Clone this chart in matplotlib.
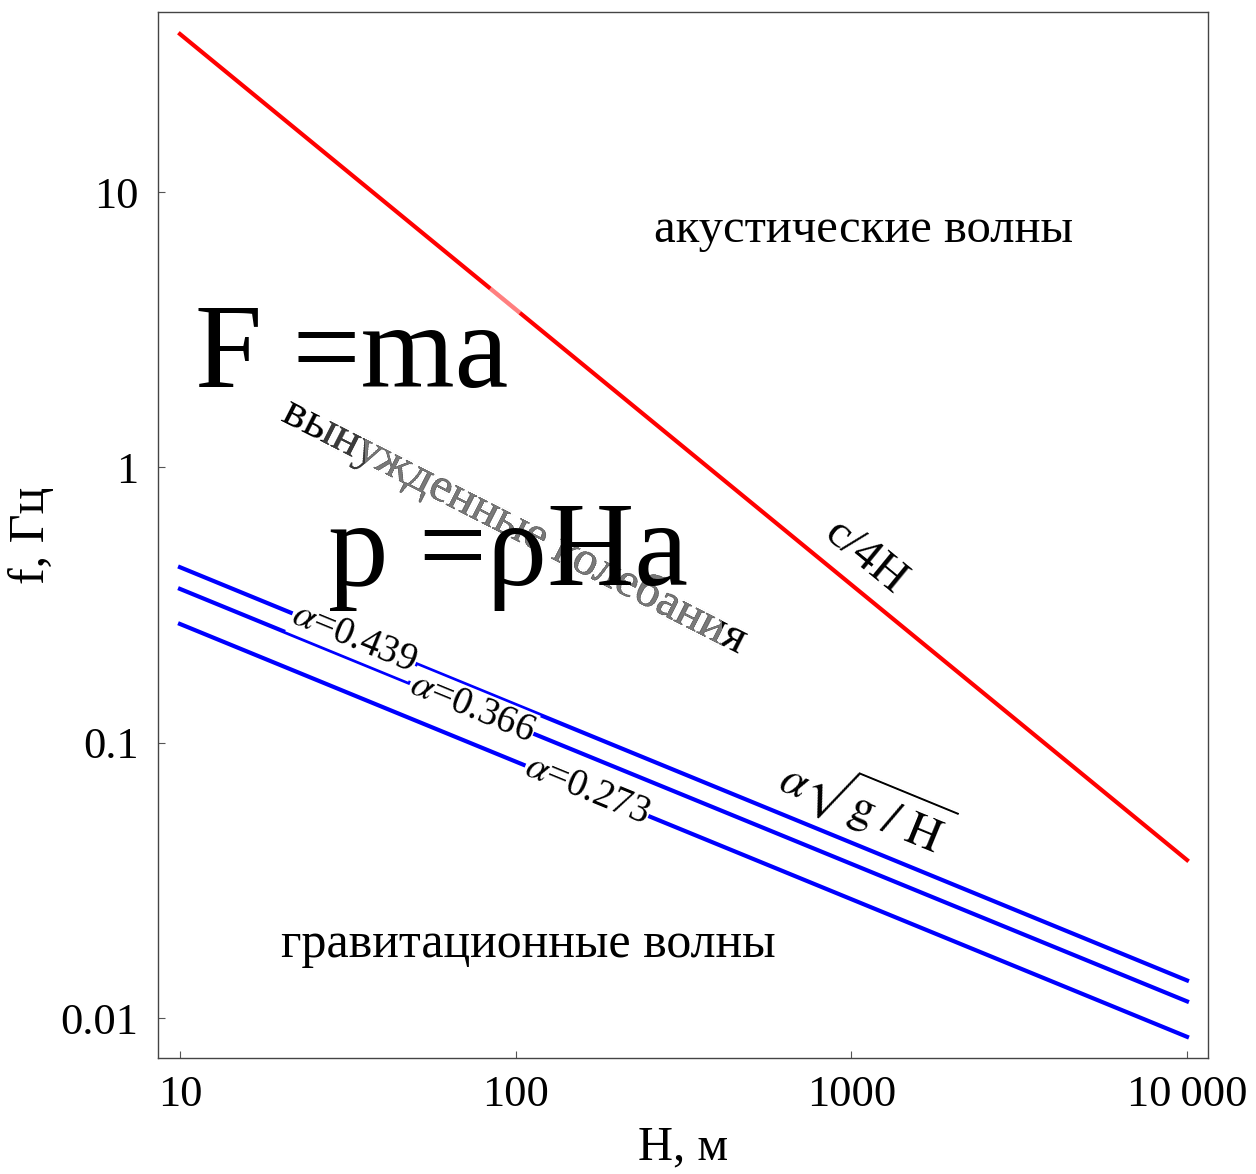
import numpy as np
import matplotlib
matplotlib.use("Agg")
import matplotlib.pyplot as plt
from matplotlib.transforms import Bbox

plt.rcParams['font.family'] = ['Liberation Serif', 'DejaVu Serif']
plt.rcParams['mathtext.fontset'] = 'stix'

# depth range and line end values
H_ends = [10, 10000]
f_acoustic = [37.5, 0.0375]          # c/4H, c = 1500 m/s
alphas = [0.439, 0.366, 0.273]
f_gravity = [[0.434, 0.0137],
             [0.362, 0.0115],
             [0.270, 0.00855]]
alpha_label_H = [33, 74, 163]
faded_H = [84, 103]                  # washed-out piece of the red line

xticks = [10, 100, 1000, 10000]
xticklabels = ['10', '100', '1000', '10\u2009000']
yticks = [0.01, 0.1, 1, 10]
yticklabels = ['0.01', '0.1', '1', '10']

fig = plt.figure(figsize=(12.56, 11.74), dpi=100)
ax = fig.add_axes([0.1258, 0.0988, 0.836, 0.891])
ax.set_xscale('log')
ax.set_yscale('log')
ax.set_xlim(8.6, 11550)
ax.set_ylim(0.00716, 45.1)

def on_line(h, xs, ys):
    return 10 ** np.interp(np.log10(h), np.log10(xs), np.log10(ys))

ax.plot(H_ends, f_acoustic, color='#ff0000', lw=3)
ax.plot(faded_H, on_line(faded_H, H_ends, f_acoustic), color='white', alpha=0.5,
        lw=3.2, solid_capstyle='butt')
for fa in f_gravity:
    ax.plot(H_ends, fa, color='#0000ff', lw=3)

def line_angle(xs, ys):
    p = ax.transData.transform(np.column_stack([xs, ys]))
    d = p[1] - p[0]
    return np.degrees(np.arctan2(d[1], d[0]))

ang_red = line_angle(H_ends, f_acoustic)
ang_blue = line_angle(H_ends, f_gravity[0])

# inline alpha labels on the blue lines
for a, fa, hx in zip(alphas, f_gravity, alpha_label_H):
    ax.text(hx, on_line(hx, H_ends, fa), r'$\alpha$=%.3f' % a, fontsize=28,
            rotation=ang_blue, rotation_mode='anchor', ha='center', va='center',
            bbox=dict(facecolor='white', edgecolor='none', pad=0.5))

ax.text(1097, 0.47, 'c/4H', fontsize=34, rotation=ang_red,
        rotation_mode='anchor', ha='center', va='center')
ax.text(1097, 0.059, r'$\alpha\sqrt{\mathrm{g}\ /\ \mathrm{H}}$', fontsize=34,
        rotation=ang_blue, rotation_mode='anchor', ha='center', va='center')

ax.text(1084, 7.28, 'акустические волны', fontsize=35, ha='center', va='center')
ax.text(109, 0.0184, 'гравитационные волны', fontsize=36, ha='center', va='center')

# forced oscillations label: black at the ends, fading to grey in the middle
forced = 'вынужденные колебания'
for colour, x0, x1 in [('black', 0, 1256), ('#3c3c3c', 322, 722), ('#7a7a7a', 365, 722)]:
    t = ax.text(99.6, 0.616, forced, fontsize=35, rotation=-27, rotation_mode='anchor',
                ha='center', va='center', color=colour)
    t.set_clip_on(True)
    t.set_clip_box(Bbox.from_extents(x0, 0, x1, 1174))

fig.text(195 / 1256, 1 - 387 / 1174, 'F =ma', fontsize=87, ha='left', va='baseline')
fig.text(328 / 1256, 1 - 585 / 1174, 'p =ρHa', fontsize=87, ha='left', va='baseline')

ax.set_xticks(xticks)
ax.set_xticklabels(xticklabels)
ax.set_yticks(yticks)
ax.set_yticklabels(yticklabels)
ax.minorticks_off()
ax.tick_params(direction='in', length=5, width=0.8, labelsize=32, color='#555555')
ax.tick_params(axis='x', pad=12)
ax.tick_params(axis='y', pad=14)
for s in ax.spines.values():
    s.set_color('#444444')
    s.set_linewidth(1.0)

ax.set_xlabel('H, м', fontsize=35, labelpad=8)
ax.set_ylabel('f, Гц', fontsize=36, labelpad=4)

fig.savefig('out.png', dpi=100)
